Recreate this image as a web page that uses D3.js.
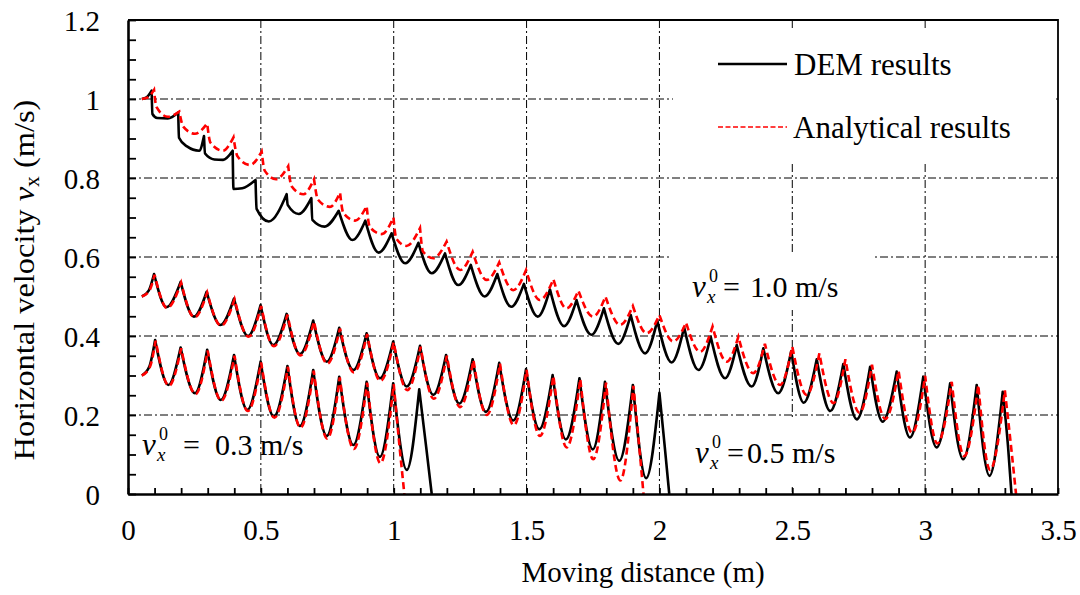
<!DOCTYPE html>
<html>
<head>
<meta charset="utf-8">
<script src="https://cdn.jsdelivr.net/npm/d3@7"></script>
<style>
  html, body { margin: 0; padding: 0; background: #fff; }
  svg text { font-family: "Liberation Serif", "Times New Roman", serif; fill: #000; }
</style>
</head>
<body>
<svg id="chart" width="1080" height="595"></svg>
<script>
// Horizontal velocity vs. moving distance: DEM results vs. analytical results
// for three initial velocities (1.0, 0.5 and 0.3 m/s).

const xTickLabels = ["0", "0.5", "1", "1.5", "2", "2.5", "3", "3.5"];
const yTickLabels = ["0", "0.2", "0.4", "0.6", "0.8", "1", "1.2"];
const xGridValues = [0.5, 1, 1.5, 2, 2.5, 3];
const yGridValues = [0.2, 0.4, 0.6, 0.8, 1.0];

const seriesNames = ["DEM results", "Analytical results"];
const initialVelocityLabels = ["1.0 m/s", "0.5 m/s", "0.3 m/s"];

// v0 = 1.0 m/s, DEM  [distance (m), velocity (m/s)]
const dem10 = [
  [0.052, 1.000], [0.070, 1.004], [0.089, 1.021],
  [0.092, 0.962], [0.110, 0.952], [0.150, 0.951], [0.189, 0.966],
  [0.192, 0.902], [0.222, 0.880], [0.268, 0.869], [0.286, 0.906],
  [0.290, 0.862], [0.325, 0.847], [0.358, 0.846], [0.394, 0.869],
  [0.397, 0.772], [0.430, 0.774], [0.480, 0.795],
  [0.484, 0.722], [0.530, 0.690], [0.597, 0.759],
  [0.601, 0.732], [0.643, 0.709], [0.690, 0.749],
  [0.694, 0.694], [0.740, 0.677], [0.793, 0.717],
  [0.845, 0.643], [0.893, 0.692],
  [0.943, 0.611], [0.992, 0.660],
  [1.043, 0.584], [1.093, 0.636],
  [1.143, 0.559], [1.193, 0.609],
  [1.243, 0.529], [1.290, 0.580],
  [1.342, 0.500], [1.390, 0.557],
  [1.442, 0.474], [1.490, 0.532],
  [1.542, 0.449], [1.588, 0.518],
  [1.641, 0.425], [1.688, 0.491],
  [1.744, 0.403], [1.791, 0.470],
  [1.845, 0.380], [1.892, 0.453],
  [1.946, 0.356], [1.992, 0.439],
  [2.046, 0.333], [2.093, 0.422],
  [2.147, 0.314], [2.193, 0.398],
  [2.247, 0.293], [2.291, 0.377],
  [2.347, 0.272], [2.391, 0.369],
  [2.447, 0.255], [2.496, 0.362],
  [2.543, 0.231], [2.592, 0.341],
  [2.643, 0.210], [2.692, 0.329],
  [2.743, 0.189], [2.793, 0.322],
  [2.840, 0.183], [2.893, 0.310],
  [2.943, 0.143], [2.993, 0.297],
  [3.043, 0.118], [3.094, 0.280],
  [3.143, 0.088], [3.194, 0.276],
  [3.242, 0.046], [3.292, 0.259],
  [3.312, 0.120], [3.325, 0.000]
];

// v0 = 1.0 m/s, analytical
const ana10 = [
  [0.052, 1.000], [0.075, 1.004], [0.098, 1.023],
  [0.107, 0.980], [0.150, 0.955], [0.193, 0.968],
  [0.208, 0.930], [0.252, 0.912], [0.298, 0.938],
  [0.310, 0.890], [0.357, 0.869], [0.397, 0.903],
  [0.412, 0.855], [0.459, 0.833], [0.503, 0.867],
  [0.515, 0.818], [0.557, 0.797], [0.603, 0.830],
  [0.615, 0.780], [0.660, 0.759], [0.700, 0.797],
  [0.715, 0.745], [0.760, 0.727], [0.798, 0.763],
  [0.810, 0.712], [0.855, 0.692], [0.898, 0.729],
  [0.910, 0.676], [0.955, 0.658], [0.999, 0.700],
  [1.010, 0.646], [1.048, 0.628], [1.099, 0.673],
  [1.110, 0.614], [1.149, 0.597], [1.199, 0.639],
  [1.250, 0.567], [1.297, 0.613],
  [1.350, 0.542], [1.397, 0.586],
  [1.450, 0.516], [1.498, 0.567],
  [1.550, 0.491], [1.601, 0.544],
  [1.650, 0.470], [1.695, 0.515],
  [1.750, 0.449], [1.797, 0.500],
  [1.852, 0.428], [1.900, 0.476],
  [1.952, 0.407], [2.000, 0.453],
  [2.052, 0.386], [2.100, 0.434],
  [2.153, 0.360], [2.200, 0.424],
  [2.253, 0.335], [2.297, 0.398],
  [2.353, 0.306], [2.397, 0.380],
  [2.454, 0.276], [2.500, 0.373],
  [2.554, 0.251], [2.602, 0.356],
  [2.655, 0.230], [2.700, 0.341],
  [2.753, 0.206], [2.800, 0.327],
  [2.850, 0.190], [2.900, 0.312],
  [2.951, 0.155], [3.000, 0.299],
  [3.046, 0.128], [3.100, 0.284],
  [3.147, 0.096], [3.200, 0.276],
  [3.244, 0.061], [3.300, 0.262],
  [3.325, 0.110], [3.342, 0.000]
];

// v0 = 0.5 m/s, DEM
const dem05 = [
  [0.052, 0.500], [0.078, 0.515], [0.098, 0.557],
  [0.145, 0.473], [0.198, 0.537],
  [0.248, 0.449], [0.296, 0.512],
  [0.348, 0.428], [0.399, 0.495],
  [0.452, 0.400], [0.499, 0.478],
  [0.547, 0.377], [0.597, 0.456],
  [0.647, 0.354], [0.697, 0.439],
  [0.748, 0.335], [0.795, 0.421],
  [0.848, 0.314], [0.898, 0.407],
  [0.948, 0.293], [0.998, 0.386],
  [1.049, 0.272], [1.099, 0.375],
  [1.149, 0.251], [1.197, 0.352],
  [1.247, 0.229], [1.297, 0.341],
  [1.347, 0.208], [1.397, 0.332],
  [1.450, 0.186], [1.498, 0.316],
  [1.548, 0.164], [1.598, 0.301],
  [1.648, 0.138], [1.699, 0.293],
  [1.749, 0.113], [1.795, 0.284],
  [1.849, 0.084], [1.900, 0.276],
  [1.950, 0.040], [2.000, 0.256],
  [2.020, 0.120], [2.037, 0.000]
];

// v0 = 0.5 m/s, analytical
const ana05 = [
  [0.052, 0.500], [0.080, 0.514], [0.100, 0.555],
  [0.147, 0.471], [0.200, 0.535],
  [0.250, 0.447], [0.298, 0.510],
  [0.350, 0.426], [0.401, 0.493],
  [0.454, 0.398], [0.501, 0.476],
  [0.549, 0.374], [0.600, 0.454],
  [0.649, 0.351], [0.700, 0.437],
  [0.750, 0.330], [0.798, 0.419],
  [0.850, 0.308], [0.900, 0.405],
  [0.950, 0.286], [1.000, 0.384],
  [1.051, 0.263], [1.101, 0.373],
  [1.151, 0.241], [1.200, 0.350],
  [1.250, 0.220], [1.300, 0.339],
  [1.350, 0.200], [1.400, 0.330],
  [1.452, 0.174], [1.500, 0.314],
  [1.550, 0.147], [1.601, 0.299],
  [1.651, 0.118], [1.702, 0.291],
  [1.751, 0.088], [1.799, 0.282],
  [1.853, 0.034], [1.902, 0.274],
  [1.924, 0.120], [1.940, 0.000]
];

// v0 = 0.3 m/s, DEM
const dem03 = [
  [0.052, 0.300], [0.080, 0.322], [0.102, 0.390],
  [0.152, 0.276], [0.198, 0.371],
  [0.252, 0.255], [0.298, 0.365],
  [0.349, 0.238], [0.399, 0.352],
  [0.449, 0.213], [0.499, 0.335],
  [0.549, 0.196], [0.600, 0.324],
  [0.647, 0.172], [0.697, 0.314],
  [0.748, 0.147], [0.795, 0.297],
  [0.848, 0.124], [0.898, 0.284],
  [0.948, 0.094], [0.998, 0.280],
  [1.049, 0.061], [1.096, 0.265],
  [1.122, 0.120], [1.143, 0.000]
];

// v0 = 0.3 m/s, analytical
const ana03 = [
  [0.052, 0.300], [0.082, 0.321], [0.104, 0.388],
  [0.154, 0.274], [0.200, 0.369],
  [0.254, 0.253], [0.300, 0.363],
  [0.351, 0.236], [0.401, 0.350],
  [0.451, 0.210], [0.501, 0.333],
  [0.551, 0.193], [0.602, 0.322],
  [0.649, 0.168], [0.699, 0.312],
  [0.750, 0.140], [0.797, 0.295],
  [0.850, 0.114], [0.900, 0.282],
  [0.950, 0.078], [1.000, 0.278],
  [1.022, 0.120], [1.040, 0.000]
];

// ---------------------------------------------------------------------------
const svg = d3.select("#chart");
const plotLeft = 128, plotRight = 1058, plotTop = 20, plotBottom = 494;

const x = d3.scaleLinear().domain([0, 3.5]).range([plotLeft, plotRight]);
const y = d3.scaleLinear().domain([0, 1.2]).range([plotBottom, plotTop]);

// grid (dash-dot)
const grid = svg.append("g").attr("stroke", "#000").attr("stroke-width", 1)
  .attr("stroke-dasharray", "8,3,2,3").attr("fill", "none");
grid.selectAll("line.v").data(xGridValues).join("line").attr("class", "v")
  .attr("x1", d => x(d)).attr("x2", d => x(d)).attr("y1", plotTop).attr("y2", plotBottom);
grid.selectAll("line.h").data(yGridValues).join("line").attr("class", "h")
  .attr("x1", plotLeft).attr("x2", plotRight).attr("y1", d => y(d)).attr("y2", d => y(d));

// white panels behind the legend and annotations
const panels = [
  [673, 30, 380, 132],
  [670, 253, 205, 57],
  [668, 419, 220, 68]
];
svg.append("g").selectAll("rect").data(panels).join("rect")
  .attr("x", d => d[0]).attr("y", d => d[1]).attr("width", d => d[2]).attr("height", d => d[3])
  .attr("fill", "#fff");

// curves: scalloped arcs meeting at sharp peaks
function cuspPath(points) {
  const p = d3.path();
  let started = false;
  const ctx = {
    moveTo(a, b) { if (started) p.lineTo(a, b); else { p.moveTo(a, b); started = true; } },
    lineTo(a, b) { p.lineTo(a, b); },
    bezierCurveTo(a, b, c, d, e, f) { p.bezierCurveTo(a, b, c, d, e, f); },
    closePath() {}
  };
  const gen = d3.line().x(d => x(d[0])).y(d => y(d[1])).curve(d3.curveMonotoneX).context(ctx);
  let seg = [points[0]];
  for (let i = 1; i < points.length; i++) {
    seg.push(points[i]);
    const peak = i < points.length - 1 && points[i][1] > points[i - 1][1] && points[i][1] > points[i + 1][1];
    if (peak) { gen(seg); seg = [points[i]]; }
  }
  if (seg.length > 1) gen(seg);
  return p.toString();
}

svg.append("clipPath").attr("id", "plotClip").append("rect")
  .attr("x", plotLeft).attr("y", plotTop).attr("width", plotRight - plotLeft).attr("height", plotBottom - plotTop);

const curves = svg.append("g").attr("clip-path", "url(#plotClip)").attr("fill", "none");
[dem10, dem05, dem03].forEach(s => {
  curves.append("path").attr("d", cuspPath(s))
    .attr("stroke", "#000").attr("stroke-width", 2.6).attr("stroke-linejoin", "round");
});
[ana10, ana05, ana03].forEach(s => {
  curves.append("path").attr("d", cuspPath(s))
    .attr("stroke", "#ff0000").attr("stroke-width", 2.6).attr("stroke-dasharray", "7,4");
});

// axes
const xTicks = d3.range(0, 36).map(i => +(i * 0.1).toFixed(1));
const yTicks = d3.range(0, 25).map(i => +(i * 0.05).toFixed(2));

const xAxis = d3.axisBottom(x).tickValues(xTicks).tickSizeInner(-6).tickSizeOuter(0)
  .tickFormat((d, i) => (i % 5 === 0 ? xTickLabels[i / 5] : ""));
const gx = svg.append("g").attr("transform", `translate(0,${plotBottom})`).call(xAxis);
gx.selectAll(".tick text").attr("y", 46).attr("dy", null);

const yAxis = d3.axisLeft(y).tickValues(yTicks).tickSizeInner(-8).tickSizeOuter(0)
  .tickFormat((d, i) => (i % 4 === 0 ? yTickLabels[i / 4] : ""));
const gy = svg.append("g").attr("transform", `translate(${plotLeft},0)`).call(yAxis);
gy.selectAll(".tick text").attr("x", -28).attr("dy", 10);

[gx, gy].forEach(g => {
  g.attr("font-family", null).attr("font-size", null);
  g.select(".domain").attr("stroke", "#000").attr("stroke-width", 2.6);
  g.selectAll(".tick line").attr("stroke", "#000").attr("stroke-width", 1.8);
  g.selectAll(".tick text").attr("font-size", 29).attr("fill", "#000");
});

// top and right frame lines
svg.append("path")
  .attr("d", `M${plotLeft},${plotTop}H${plotRight}V${plotBottom}`)
  .attr("fill", "none").attr("stroke", "#000").attr("stroke-width", 1.8);

// axis titles
svg.append("text").attr("x", 643).attr("y", 582)
  .attr("text-anchor", "middle").attr("font-size", 29).text("Moving distance (m)");

const yt = svg.append("text").attr("transform", "translate(34,280) rotate(-90) scale(1.08,1)")
  .attr("text-anchor", "middle").attr("font-size", 30);
yt.append("tspan").text("Horizontal velocity ");
yt.append("tspan").attr("font-style", "italic").text("v");
yt.append("tspan").attr("font-size", 20).attr("dy", 5).text("x");
yt.append("tspan").attr("dy", -5).text(" (m/s)");

// legend
const legend = svg.append("g");
legend.append("line").attr("x1", 718).attr("x2", 787).attr("y1", 64).attr("y2", 64)
  .attr("stroke", "#000").attr("stroke-width", 2.6);
legend.append("text").attr("x", 794).attr("y", 75).attr("font-size", 31).text(seriesNames[0]);
legend.append("line").attr("x1", 718).attr("x2", 787).attr("y1", 127).attr("y2", 127)
  .attr("stroke", "#ff0000").attr("stroke-width", 1.6).attr("stroke-dasharray", "5,2.5");
legend.append("text").attr("x", 793).attr("y", 138).attr("font-size", 31).text(seriesNames[1]);

// initial velocity annotations: v with stacked superscript 0 / subscript x
function velocityLabel(vx, base, eqX, valX, value) {
  const t = svg.append("text").attr("font-size", 30);
  t.append("tspan").attr("x", vx).attr("y", base).attr("font-size", 31).attr("font-style", "italic").text("v");
  t.append("tspan").attr("x", vx + 17).attr("y", base - 15).attr("font-size", 18).text("0");
  t.append("tspan").attr("x", vx + 15).attr("y", base + 6).attr("font-size", 19).attr("font-style", "italic").text("x");
  t.append("tspan").attr("x", eqX).attr("y", base).text("=");
  t.append("tspan").attr("x", valX).attr("y", base).text(value);
}
velocityLabel(692, 297, 723, 750, initialVelocityLabels[0]);
velocityLabel(695, 463, 727, 747, initialVelocityLabels[1]);
velocityLabel(142, 455, 183, 215, initialVelocityLabels[2]);
</script>
</body>
</html>
